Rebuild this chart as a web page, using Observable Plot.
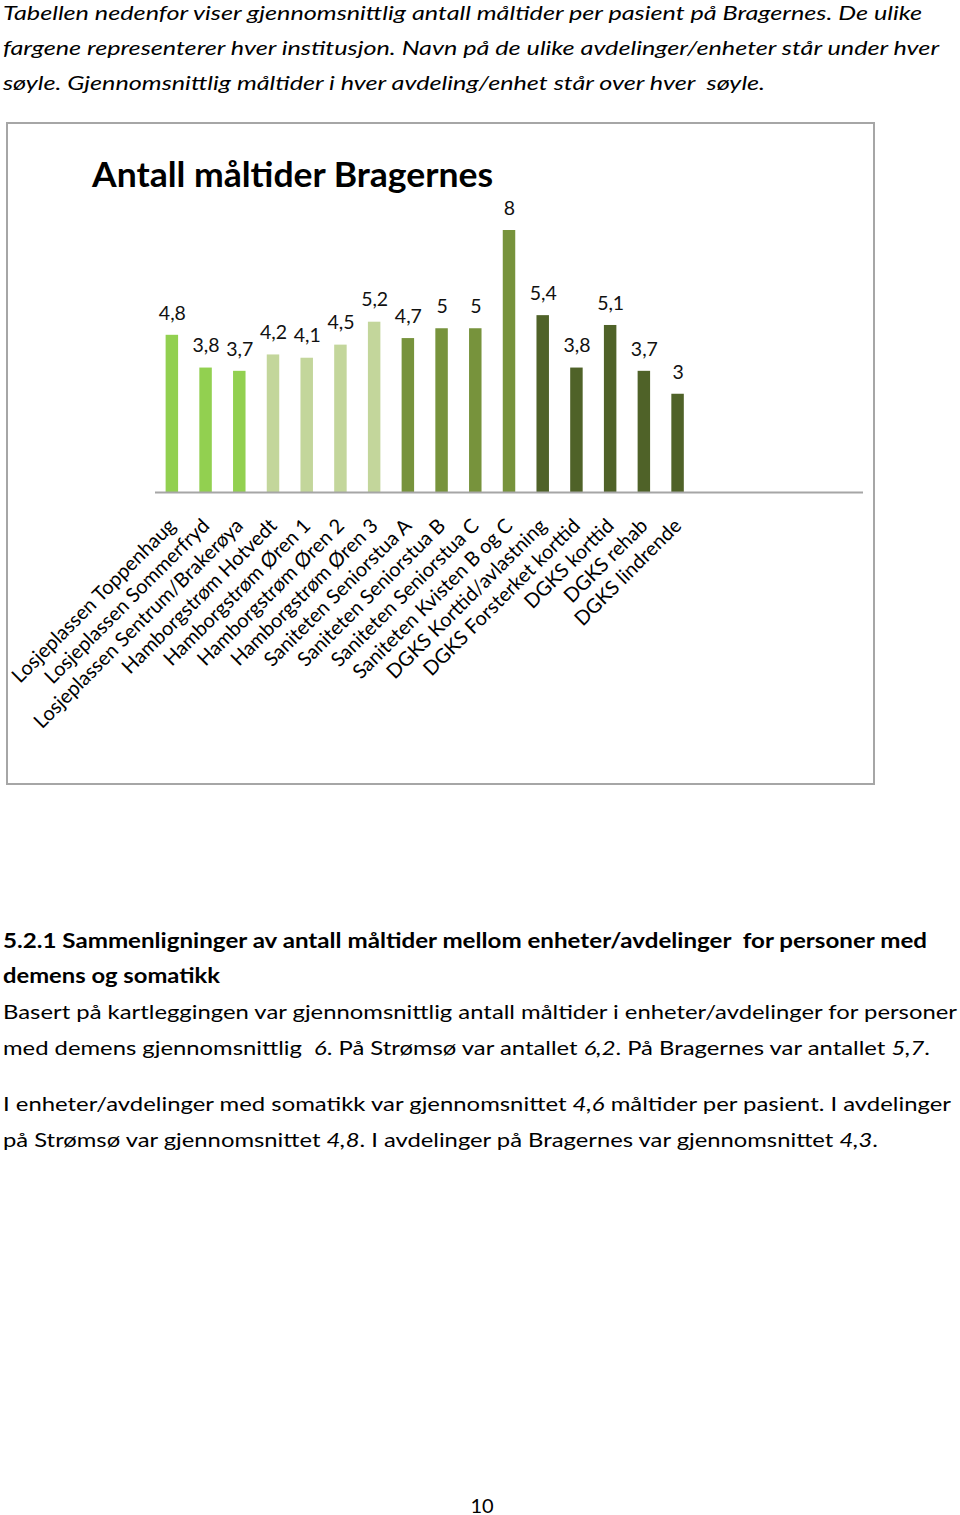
<!DOCTYPE html>
<html><head><meta charset="utf-8">
<script src="https://cdn.jsdelivr.net/npm/d3@7"></script>
<script src="https://cdn.jsdelivr.net/npm/@observablehq/plot@0.6"></script>
<style>
body{margin:0;background:#fff;width:960px;height:1515px;position:relative;overflow:hidden;font-family:Lato,"Open Sans",sans-serif;color:#000}
.ln{position:absolute;left:3px;white-space:nowrap;font-size:20px;line-height:1;transform-origin:0 50%}
.it{font-style:italic}
.b{font-weight:bold}
#frame{position:absolute;left:6px;top:122px;width:869px;height:663px;box-sizing:border-box;border:2px solid #a6a6a6}
#chart{position:absolute;left:0;top:123px}
#title{position:absolute;left:92px;top:174px;font-size:34px;font-weight:bold;white-space:nowrap;line-height:1;transform-origin:0 50%}
#page{position:absolute;left:0;width:964px;text-align:center;top:1505px;font-size:20px;transform:translateY(-50%)}
</style></head>
<body>
<div class="ln it" data-w="919" style="top:12px">Tabellen nedenfor viser gjennomsnittlig antall måltider per pasient på Bragernes. De ulike</div>
<div class="ln it" data-w="936" style="top:47px">fargene representerer hver institusjon. Navn på de ulike avdelinger/enheter står under hver</div>
<div class="ln it" data-w="762" style="top:82px">søyle. Gjennomsnittlig måltider i hver avdeling/enhet står over hver&nbsp; søyle.</div>
<div id="frame"></div>
<div id="chart"></div>
<div id="title" data-w="401">Antall måltider Bragernes</div>
<div class="ln b" data-w="924" style="top:940px">5.2.1 Sammenligninger av antall måltider mellom enheter/avdelinger&nbsp; for personer med</div>
<div class="ln b" data-w="217" style="top:975px">demens og somatikk</div>
<div class="ln" data-w="954" style="top:1011px">Basert på kartleggingen var gjennomsnittlig antall måltider i enheter/avdelinger for personer</div>
<div class="ln" data-w="927" style="top:1047px">med demens gjennomsnittlig&nbsp; <span class="it">6</span>. På Strømsø var antallet <span class="it">6,2</span>. På Bragernes var antallet <span class="it">5,7</span>.</div>
<div class="ln" data-w="948" style="top:1103px">I enheter/avdelinger med somatikk var gjennomsnittet <span class="it">4,6</span> måltider per pasient. I avdelinger</div>
<div class="ln" data-w="875" style="top:1139px">på Strømsø var gjennomsnittet <span class="it">4,8</span>. I avdelinger på Bragernes var gjennomsnittet <span class="it">4,3</span>.</div>
<div id="page">10</div>
<script>
const units = [
  "Losjeplassen Toppenhaug","Losjeplassen Sommerfryd","Losjeplassen Sentrum/Brakerøya",
  "Hamborgstrøm Hotvedt","Hamborgstrøm Øren 1","Hamborgstrøm Øren 2","Hamborgstrøm Øren 3",
  "Saniteten Seniorstua A","Saniteten Seniorstua B","Saniteten Seniorstua C","Saniteten Kvisten B og C",
  "DGKS Korttid/avlastning","DGKS Forsterket korttid","DGKS korttid","DGKS rehab","DGKS lindrende"
];
const meals = [4.8,3.8,3.7,4.2,4.1,4.5,5.2,4.7,5,5,8,5.4,3.8,5.1,3.7,3];
const institution = ["Losjeplassen","Losjeplassen","Losjeplassen",
  "Hamborgstrøm","Hamborgstrøm","Hamborgstrøm","Hamborgstrøm",
  "Saniteten","Saniteten","Saniteten","Saniteten",
  "DGKS","DGKS","DGKS","DGKS","DGKS"];
const institutions = ["Losjeplassen","Hamborgstrøm","Saniteten","DGKS"];
const colors = ["#92d050","#c3d69b","#77933c","#4f6228"];
const emptySlots = ["_1","_2","_3","_4","_5"];

const data = units.map((u,i)=>({unit:u, value:meals[i], inst:institution[i]}));
const fmt = v => String(v).replace(".", ",");

const plot = Plot.plot({
  width: 960, height: 661,
  marginLeft: 155, marginRight: 97, marginTop: 41.5, marginBottom: 292,
  style: {fontFamily: "Lato, 'Open Sans', sans-serif", fontSize: "20px", color: "#000", background: "transparent"},
  x: {domain: [...units, ...emptySlots], paddingInner: 0.63, paddingOuter: 0.315, round: false, axis: null},
  y: {domain: [0, 10], axis: null},
  color: {domain: institutions, range: colors},
  marks: [
    Plot.barY(data, {x: "unit", y: "value", fill: "inst"}),
    Plot.text(data, {x: "unit", y: "value", text: d => fmt(d.value), dy: -22, fontSize: 19.5, fill: "#111"}),
    Plot.ruleY([0], {stroke: "#a6a6a6", strokeWidth: 2}),
    Plot.axisX(units, {tickSize: 0, tickPadding: 30, tickRotate: -45, textAnchor: "end", dx: 0, fontSize: 20, fill: "#000", label: null})
  ]
});
document.getElementById("chart").appendChild(plot);

function fit(el){
  const w = +el.dataset.w;
  const nat = el.getBoundingClientRect().width;
  const s = w / nat;
  el.style.transform = `translateY(-50%) scaleX(${s})`;
}
document.querySelectorAll("[data-w]").forEach(fit);
</script>
</body></html>
